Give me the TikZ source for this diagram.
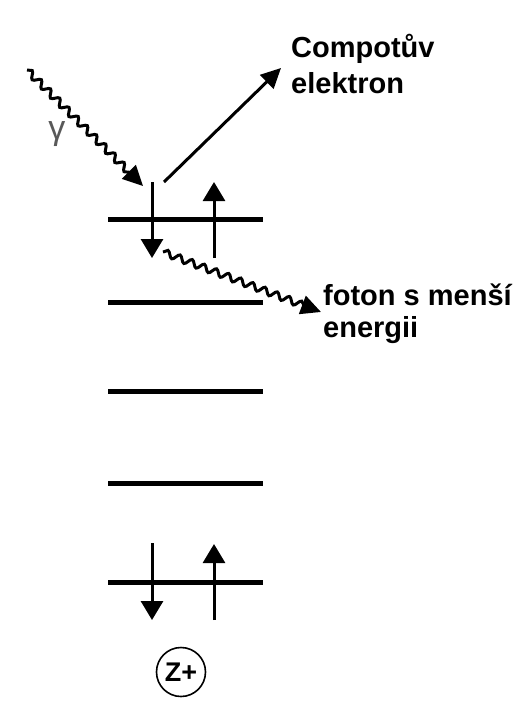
\documentclass[tikz,border=0pt]{standalone}
\usepackage{fontspec}
\setmainfont{Liberation Sans}
\usetikzlibrary{arrows.meta,decorations.pathmorphing}
\tikzset{
  level/.style={line width=5pt},
  spin/.style={line width=3pt,-{Triangle[length=19pt,width=22pt]}},
  wave/.style={line width=3pt,decorate,
    decoration={snake,amplitude=3.3pt,segment length=13pt,post length=17pt},
    -{Triangle[length=20pt,width=19pt]}},
  lbl/.style={anchor=base west,inner sep=0pt,font=\fontsize{29}{34}\selectfont\bfseries}
}
\begin{document}
\begin{tikzpicture}[x=1pt,y=-1pt]
\useasboundingbox (0,0) rectangle (529,713);
% energy levels
\foreach \i/\y in {1/219,2/302,3/391,4/483,5/582}{
  \coordinate (L\i a) at (108,\y);
  \coordinate (L\i b) at (263,\y);
  \draw[level] (L\i a) -- (L\i b);
}
% top-level spins
\coordinate (d1s) at (152,182);
\coordinate (d1e) at (152,258);
\coordinate (u1s) at (214,258);
\coordinate (u1e) at (214,182);
\draw[spin] (d1s) -- (d1e);
\draw[spin] (u1s) -- (u1e);
% bottom-level spins
\coordinate (d5s) at (152,543);
\coordinate (d5e) at (152,620);
\coordinate (u5s) at (214,620);
\coordinate (u5e) at (214,544);
\draw[spin] (d5s) -- (d5e);
\draw[spin] (u5s) -- (u5e);
% incoming gamma
\coordinate (g0) at (27,70);
\coordinate (g1) at (143,186);
\draw[wave] (g0) -- (g1);
\node[text=black!65,font=\fontsize{34}{34}\selectfont] (gam) at (57,134) {γ};
% Compton electron
\coordinate (e0) at (164,182);
\coordinate (e1) at (281,68);
\draw[spin,-{Triangle[length=20pt,width=19pt]}] (e0) -- (e1);
\node[lbl] (ce1) at (291,57) {Compotův};
\node[lbl] (ce2) at (291,93) {elektron};
% outgoing photon
\coordinate (p0) at (163,252);
\coordinate (p1) at (321,312);
\draw[wave] (p0) -- (p1);
\node[lbl] (ph1) at (323,305) {foton s menší};
\node[lbl] (ph2) at (323,337) {energii};
% nucleus
\node[draw,circle,line width=1.6pt,minimum size=49pt,inner sep=0pt,
      font=\fontsize{27}{27}\selectfont\bfseries] (Z) at (181,672) {Z+};
\end{tikzpicture}
\end{document}
